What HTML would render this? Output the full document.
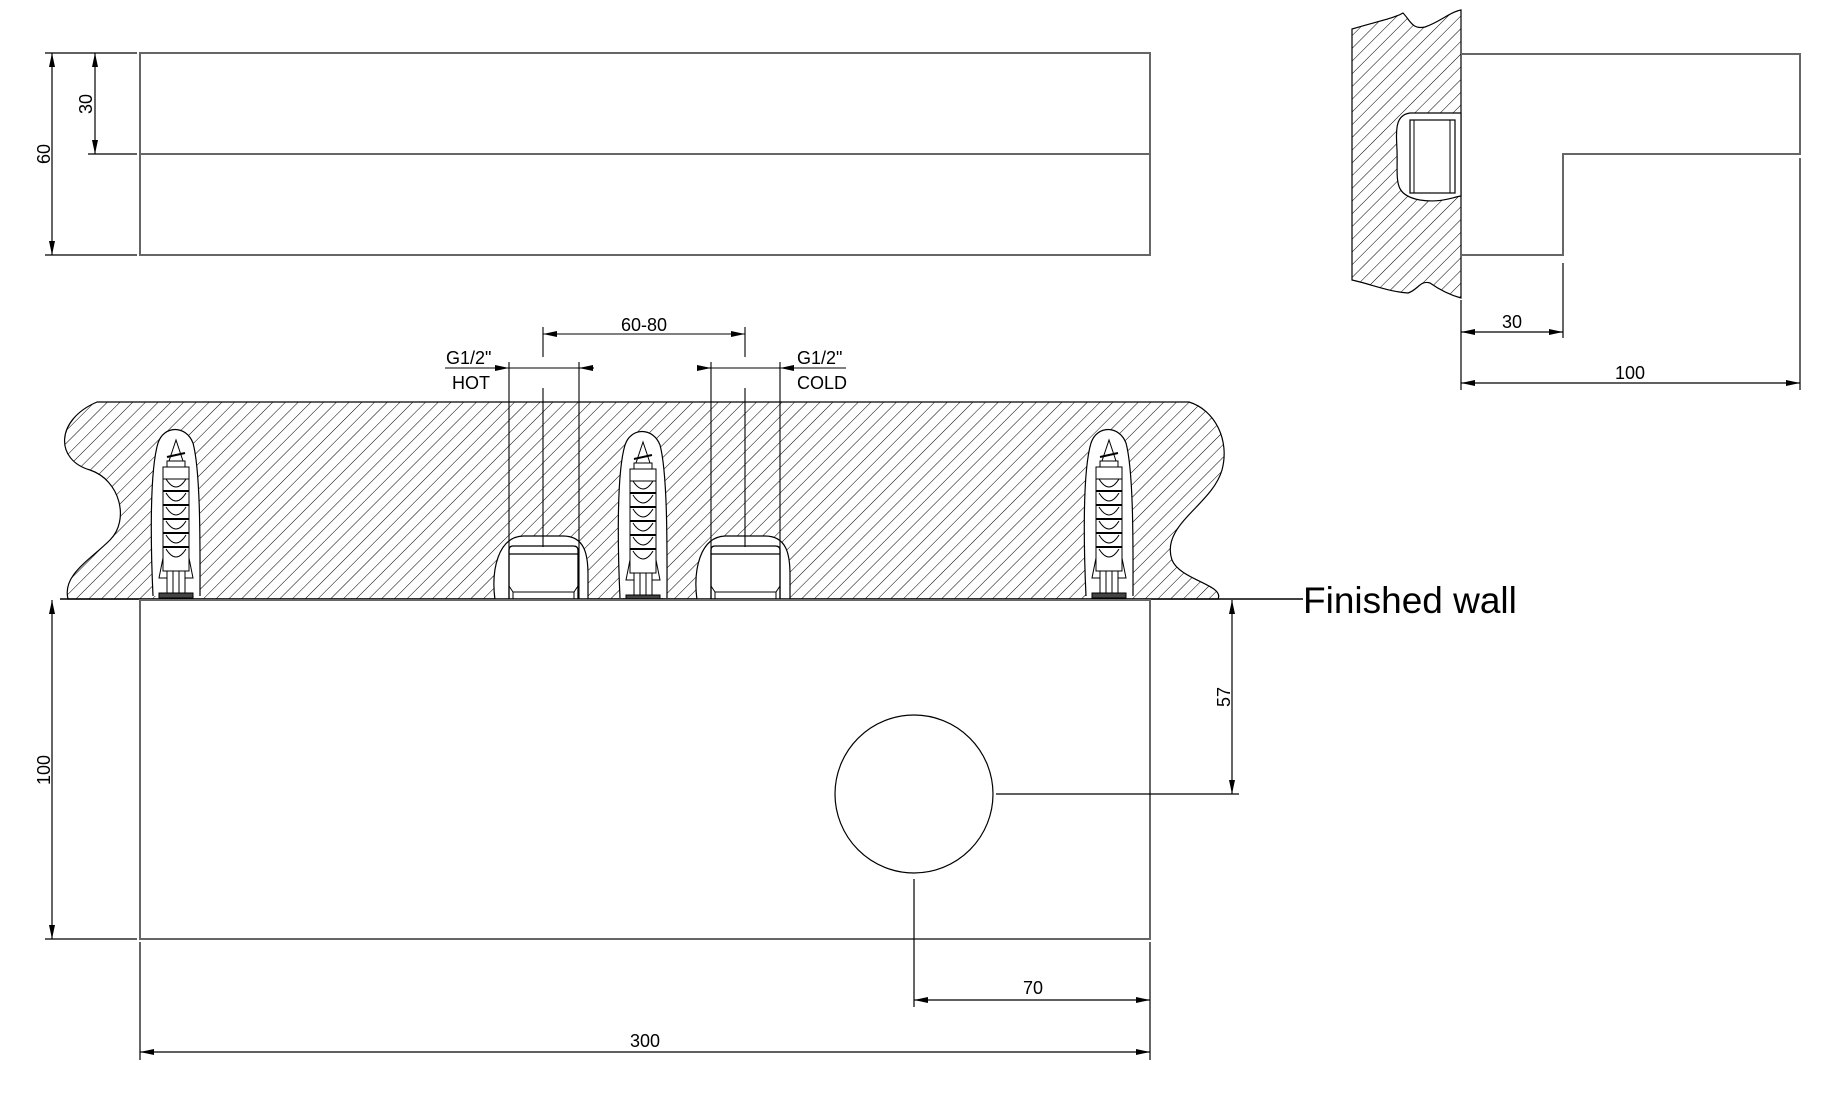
<!DOCTYPE html>
<html><head><meta charset="utf-8"><style>
html,body{margin:0;padding:0;background:#fff;}
svg{display:block;}
text{font-family:"Liberation Sans",Arial,sans-serif;fill:#000;}
</style></head><body>
<svg width="1838" height="1118" viewBox="0 0 1838 1118" xmlns="http://www.w3.org/2000/svg">
<defs>
<pattern id="h" patternUnits="userSpaceOnUse" width="9" height="9" patternTransform="rotate(45)">
<line x1="0" y1="0" x2="0" y2="9" stroke="#000" stroke-width="1"/>
</pattern>
<marker id="a" viewBox="0 0 14 6" refX="14" refY="3" markerWidth="14" markerHeight="6" orient="auto-start-reverse" markerUnits="userSpaceOnUse">
<path d="M0,0 L14,3 L0,6 Z" fill="#000"/>
</marker>
<g id="anchor">
<path d="M-23,163 C-25,120 -27,40 -18,10 C-12,-8 10,-8 17,10 C25,40 24,120 24,163" fill="#fff" stroke="#000" stroke-width="1.2"/>
<path d="M0,7 L-7,28 L7,28 Z" fill="#fff" stroke="#000"/>
<line x1="-9" y1="24" x2="9" y2="20" stroke="#000" stroke-width="2"/>
<rect x="-9" y="28" width="18" height="6" fill="#fff" stroke="#000"/>
<rect x="-13" y="34" width="26" height="12" fill="#fff" stroke="#000"/>
<rect x="-13" y="46" width="26" height="92" fill="#fff" stroke="#000"/>
<g stroke="#000" fill="none">
<path d="M-10,46 Q0,62 10,46"/><path d="M-10,60 Q0,76 10,60"/><path d="M-10,74 Q0,90 10,74"/>
<path d="M-10,88 Q0,104 10,88"/><path d="M-10,102 Q0,118 10,102"/><path d="M-10,116 Q0,132 10,116"/>
<line x1="-13" y1="58" x2="13" y2="58" stroke-width="2"/><line x1="-13" y1="72" x2="13" y2="72" stroke-width="2"/>
<line x1="-13" y1="86" x2="13" y2="86" stroke-width="2"/><line x1="-13" y1="100" x2="13" y2="100" stroke-width="2"/>
<line x1="-13" y1="114" x2="13" y2="114" stroke-width="2"/>
<path d="M-13,125 L-17,145 L-9,145"/><path d="M13,125 L17,145 L9,145"/>
</g>
<rect x="-9" y="138" width="18" height="22" fill="#fff" stroke="#000"/>
<line x1="-3" y1="138" x2="-3" y2="160" stroke="#000"/><line x1="3" y1="138" x2="3" y2="160" stroke="#000"/>
<rect x="-17" y="160" width="34" height="5" fill="#444" stroke="#000"/>
</g>
<g id="fit">
<path d="M-48,50 C-52,20 -45,-13 -20,-14 L20,-14 C42,-14 45,5 45,25 L45,50 Z" fill="#fff" stroke="#000" stroke-width="1.2"/>
<path d="M-34,50 L-34,0 Q-34,-4 -30,-4 L30,-4 Q35,-4 35,0 L35,50" fill="#fff" stroke="#000" stroke-width="1.3"/>
<line x1="-34" y1="4" x2="35" y2="4" stroke="#000" stroke-width="1.3"/>
<path d="M-34,36 L-30,42 L31,42 L35,36" fill="none" stroke="#000"/>
<line x1="-30" y1="42" x2="-30" y2="50" stroke="#000"/><line x1="31" y1="42" x2="31" y2="50" stroke="#000"/>
</g>
</defs>

<!-- Top view -->
<rect x="140" y="53" width="1010" height="202" fill="none" stroke="#666" stroke-width="2"/>
<line x1="140" y1="154" x2="1150" y2="154" stroke="#666" stroke-width="2"/>
<g stroke="#000" stroke-width="1.2">
<line x1="45" y1="53" x2="137" y2="53"/><line x1="45" y1="255" x2="137" y2="255"/>
<line x1="88" y1="154" x2="137" y2="154"/>
<line x1="52" y1="53" x2="52" y2="255" marker-start="url(#a)" marker-end="url(#a)"/>
<line x1="95" y1="53" x2="95" y2="154" marker-start="url(#a)" marker-end="url(#a)"/>
</g>
<text transform="translate(50,154) rotate(-90)" font-size="18" text-anchor="middle">60</text>
<text transform="translate(92,104) rotate(-90)" font-size="18" text-anchor="middle">30</text>

<!-- Wall section -->
<path d="M97,402 L1189,402 C1215,410 1230,440 1222,470 C1212,505 1160,525 1172,560 C1180,580 1225,585 1218,599 L68,599 C62,575 90,560 110,540 C130,520 120,480 90,470 C55,460 55,420 97,402 Z" fill="url(#h)" stroke="#000" stroke-width="1.2"/>
<use href="#anchor" x="176" y="433"/>
<use href="#anchor" x="643" y="435"/>
<use href="#anchor" x="1109" y="433"/>
<use href="#fit" x="543" y="550"/>
<use href="#fit" x="745" y="550"/>
<line x1="60" y1="599" x2="1303" y2="599" stroke="#000" stroke-width="1.5"/>
<text x="1303" y="613" font-size="37">Finished wall</text>

<!-- pipe dims -->
<g stroke="#000" stroke-width="1.1">
<line x1="509" y1="362" x2="509" y2="600"/><line x1="579" y1="362" x2="579" y2="600"/>
<line x1="543" y1="388" x2="543" y2="547"/>
<line x1="543" y1="327" x2="543" y2="357"/>
<line x1="711" y1="362" x2="711" y2="600"/><line x1="780" y1="362" x2="780" y2="600"/>
<line x1="745" y1="388" x2="745" y2="547"/>
<line x1="745" y1="327" x2="745" y2="357"/>
<line x1="543" y1="334" x2="745" y2="334" marker-start="url(#a)" marker-end="url(#a)"/>
<line x1="445" y1="368" x2="509" y2="368" marker-end="url(#a)"/>
<line x1="509" y1="368" x2="579" y2="368"/>
<line x1="594" y1="368" x2="579" y2="368" marker-end="url(#a)"/>
<line x1="697" y1="368" x2="711" y2="368" marker-end="url(#a)"/>
<line x1="711" y1="368" x2="780" y2="368"/>
<line x1="846" y1="368" x2="780" y2="368" marker-end="url(#a)"/>
</g>
<text x="644" y="331" font-size="18" text-anchor="middle">60-80</text>
<text x="446" y="364" font-size="18">G1/2"</text>
<text x="452" y="389" font-size="18">HOT</text>
<text x="797" y="364" font-size="18">G1/2"</text>
<text x="797" y="389" font-size="18">COLD</text>

<!-- Front box -->
<rect x="140" y="600" width="1010" height="339" fill="none" stroke="#666" stroke-width="2"/>
<circle cx="914" cy="794" r="79" fill="none" stroke="#000" stroke-width="1.2"/>
<g stroke="#000" stroke-width="1.2">
<line x1="45" y1="939" x2="137" y2="939"/>
<line x1="52" y1="600" x2="52" y2="939" marker-start="url(#a)" marker-end="url(#a)"/>
<line x1="996" y1="794" x2="1239" y2="794"/>
<line x1="1232" y1="600" x2="1232" y2="794" marker-start="url(#a)" marker-end="url(#a)"/>
<line x1="914" y1="879" x2="914" y2="1007"/>
<line x1="1150" y1="942" x2="1150" y2="1060"/>
<line x1="140" y1="942" x2="140" y2="1060"/>
<line x1="914" y1="1000" x2="1150" y2="1000" marker-start="url(#a)" marker-end="url(#a)"/>
<line x1="140" y1="1052" x2="1150" y2="1052" marker-start="url(#a)" marker-end="url(#a)"/>
</g>
<text transform="translate(50,770) rotate(-90)" font-size="18" text-anchor="middle">100</text>
<text transform="translate(1230,697) rotate(-90)" font-size="18" text-anchor="middle">57</text>
<text x="1033" y="994" font-size="18" text-anchor="middle">70</text>
<text x="645" y="1047" font-size="18" text-anchor="middle">300</text>

<!-- Side view -->
<path d="M1352,29 C1375,22 1395,18 1403,13 C1410,20 1412,30 1425,27 C1440,22 1450,12 1461,10 L1461,298 C1450,295 1440,290 1430,283 C1420,280 1418,290 1408,293 C1390,292 1370,284 1352,280 Z" fill="url(#h)" stroke="#000" stroke-width="1.2"/>
<path d="M1461,113 L1410,113 C1395,115 1396,130 1397,150 C1398,180 1392,195 1420,200 C1440,203 1450,198 1461,196 Z" fill="#fff" stroke="#000" stroke-width="1.2"/>
<rect x="1410" y="120" width="45" height="73" fill="#fff" stroke="#000" stroke-width="1.2"/>
<line x1="1414" y1="120" x2="1414" y2="193" stroke="#000"/>
<line x1="1450" y1="120" x2="1450" y2="193" stroke="#000"/>
<path d="M1461,54 L1800,54 L1800,154 L1563,154 L1563,255 L1461,255" fill="none" stroke="#666" stroke-width="2"/>
<g stroke="#000" stroke-width="1.2">
<line x1="1461" y1="300" x2="1461" y2="390"/>
<line x1="1563" y1="263" x2="1563" y2="338"/>
<line x1="1800" y1="158" x2="1800" y2="390"/>
<line x1="1461" y1="332" x2="1563" y2="332" marker-start="url(#a)" marker-end="url(#a)"/>
<line x1="1461" y1="383" x2="1800" y2="383" marker-start="url(#a)" marker-end="url(#a)"/>
</g>
<text x="1512" y="328" font-size="18" text-anchor="middle">30</text>
<text x="1630" y="379" font-size="18" text-anchor="middle">100</text>
</svg>
</body></html>
